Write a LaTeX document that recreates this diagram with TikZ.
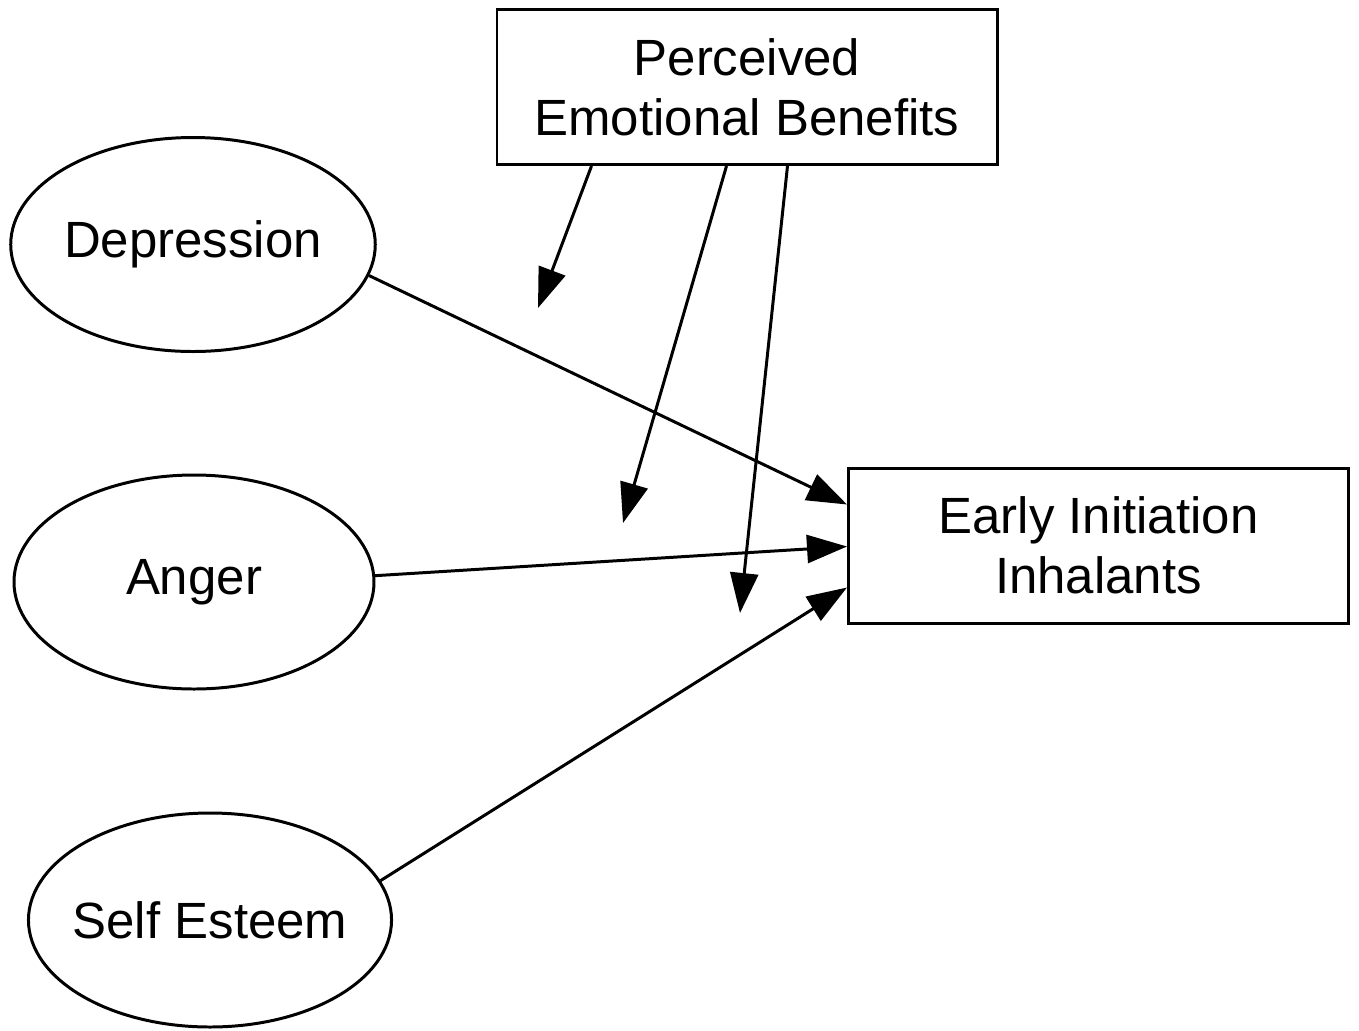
\documentclass[tikz,border=0pt]{standalone}
\usepackage{fontspec}
\setmainfont{Liberation Sans}
\usetikzlibrary{arrows.meta,calc,shapes.geometric}

\tikzset{
  var/.style={draw,ellipse,line width=0.85pt,inner sep=0pt,
    minimum width=3.6cm,minimum height=2.14cm},
  obs/.style={draw,rectangle,line width=0.85pt,align=center,inner sep=0pt,
    minimum width=5cm,minimum height=1.55cm},
  path/.style={line width=0.85pt,-{Triangle[length=0.4cm,width=0.28cm]}}
}

\begin{document}
\begin{tikzpicture}[font=\fontsize{14.5}{17}\selectfont]
\useasboundingbox (0,0) rectangle (13.59,-10.30);

\node[obs] (peb) at (7.47,-0.87) {Perceived\\Emotional Benefits};
\node[obs] (eii) at (10.985,-5.455) {Early Initiation\\Inhalants};

\node[var] (dep) at (1.93,-2.445) {Depression};
\node[var] (ang) at (1.94,-5.82) {Anger};
\node[var,inner xsep=-0.09cm] (se) at (2.10,-9.20) {Self Esteem};

% moderator arrow ends
\coordinate (m1) at (5.38,-3.08);
\coordinate (m2) at (6.23,-5.23);
\coordinate (m3) at (7.40,-6.13);

\draw[path]
(dep.-10) -- ($(eii.west)+(0,0.41)$);
\draw[path]
(ang.2) -- ($(eii.west)+(0,-0.01)$);
\draw[path]
(se.13) -- ($(eii.west)+(0,-0.42)$);

\draw[path]
($(peb.south west)+(0.96,0)$) -- (m1);
\draw[path]
($(peb.south west)+(2.31,0)$) -- (m2);
\draw[path]
($(peb.south west)+(2.92,0)$) -- (m3);
\end{tikzpicture}
\end{document}
